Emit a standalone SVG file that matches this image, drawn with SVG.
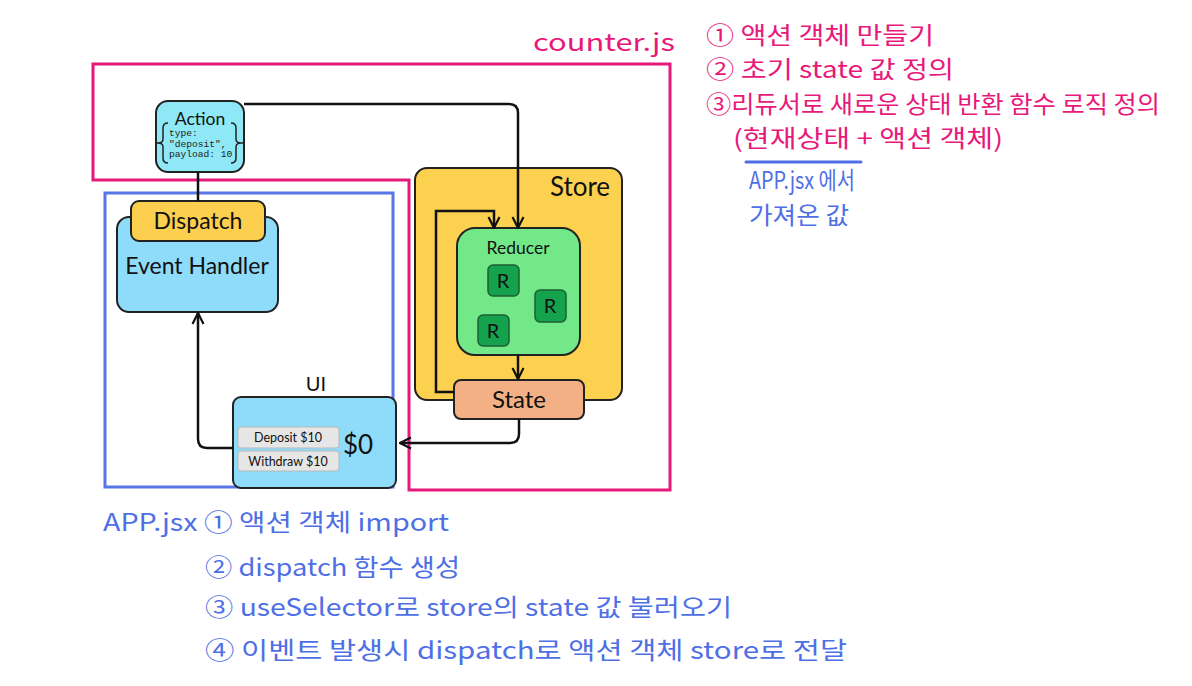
<svg xmlns="http://www.w3.org/2000/svg" width="1192" height="686" viewBox="0 0 1192 686">
<style>
.box{stroke:#222;stroke-width:2}
.lbl{font-family:Lato,"Liberation Sans",sans-serif;fill:#111;text-anchor:middle}
.mono{font-family:"Liberation Mono",monospace;font-size:9.6px;fill:#222}
.pk{font-family:"Noto Sans CJK KR",sans-serif;fill:#e8197a;font-size:24px}
.bl{font-family:"Noto Sans CJK KR",sans-serif;fill:#4f6fe6;font-size:24px}
.conn{fill:none;stroke:#111;stroke-width:2.5}
.btn{fill:#e6e6e6;stroke:#b8b8b8;stroke-width:1}
.r{fill:#14a34c;stroke:#1d5e33;stroke-width:1.5}
</style>
<defs>
<marker id="arr" viewBox="0 0 10 10" refX="9" refY="5" markerWidth="5.5" markerHeight="5.5" orient="auto" markerUnits="strokeWidth">
<path d="M1,1 L9,5 L1,9" fill="none" stroke="#111" stroke-width="1.6"/>
</marker>
</defs>
<rect width="1192" height="686" fill="#fff"/>

<g id="counter-js-frame">
<path d="M93,64 H670 V490 H409 V180 H93 Z" fill="none" stroke="#e5197a" stroke-width="3"/>
<text class="pk" x="533" y="51" font-size="26" textLength="142" lengthAdjust="spacingAndGlyphs">counter.js</text>
</g>
<g id="app-jsx-frame">
<rect x="105" y="193" width="288" height="294" fill="none" stroke="#5575e8" stroke-width="3"/>
</g>

<g id="action">
<rect x="156" y="101" width="88" height="71" rx="12" fill="#8ee8f6" class="box" stroke-width="1.5"/>
<text class="lbl" x="200" y="125" font-size="17.5">Action</text>
<path d="M168,123 Q163,123 163,128 V139 Q163,143 158,143 Q163,143 163,147 V158 Q163,163 168,163" fill="none" stroke="#222" stroke-width="1.5"/>
<path d="M231,123 Q236,123 236,128 V139 Q236,143 241,143 Q236,143 236,147 V158 Q236,163 231,163" fill="none" stroke="#222" stroke-width="1.5"/>
<line x1="155" y1="143" x2="158" y2="143" stroke="#222" stroke-width="1.5"/>
<line x1="241" y1="143" x2="245" y2="143" stroke="#222" stroke-width="1.5"/>
<text class="mono" x="169" y="136">type:</text>
<text class="mono" x="169" y="147">"deposit",</text>
<text class="mono" x="169" y="157">payload: 10</text>
</g>

<g id="event-handler">
<rect x="117" y="217" width="161" height="95" rx="12" fill="#8fdcfa" class="box"/>
<text class="lbl" x="197" y="274" font-size="23">Event Handler</text>
</g>
<g id="dispatch">
<rect x="131" y="201" width="134" height="40" rx="8" fill="#fdcf4f" class="box"/>
<text class="lbl" x="198" y="229" font-size="23">Dispatch</text>
</g>

<g id="store">
<rect x="415" y="168" width="207" height="232" rx="12" fill="#fdd150" class="box"/>
<text class="lbl" x="580" y="196" font-size="26">Store</text>
</g>
<g id="reducer">
<rect x="457" y="228" width="123" height="127" rx="18" fill="#72e889" class="box"/>
<text class="lbl" x="518" y="254" font-size="17.5">Reducer</text>
<rect class="r" x="488" y="265" width="31" height="31" rx="5"/>
<text class="lbl" x="503" y="288" font-size="20">R</text>
<rect class="r" x="535" y="290" width="31" height="32" rx="5"/>
<text class="lbl" x="550" y="313" font-size="20">R</text>
<rect class="r" x="478" y="315" width="31" height="31" rx="5"/>
<text class="lbl" x="493" y="338" font-size="20">R</text>
</g>
<g id="state">
<rect x="454" y="380" width="130" height="39" rx="7" fill="#f2b084" class="box"/>
<text class="lbl" x="519" y="408" font-size="24">State</text>
</g>

<g id="ui">
<text class="lbl" x="316" y="391" font-size="20">UI</text>
<rect x="233" y="397" width="163" height="91" rx="8" fill="#8fdcfa" class="box"/>
<rect class="btn" x="238" y="427" width="101" height="21" rx="3"/>
<text class="lbl" x="288" y="442" font-size="12.5">Deposit $10</text>
<rect class="btn" x="238" y="451" width="101" height="20" rx="3"/>
<text class="lbl" x="288" y="466" font-size="12.5">Withdraw $10</text>
<text class="lbl" x="358" y="454" font-size="26">$0</text>
</g>

<g id="connectors">
<line x1="198" y1="172" x2="198" y2="201" class="conn"/>
<path d="M244,104 H509 Q518,104 518,113 V228" class="conn" marker-end="url(#arr)"/>
<path d="M454,392 H436 V211 H494 V228" class="conn" marker-end="url(#arr)"/>
<path d="M518,355 V379" class="conn" marker-end="url(#arr)"/>
<path d="M519,419 V434 Q519,443 510,443 H400" class="conn" marker-end="url(#arr)"/>
<path d="M233,448 H207 Q198,448 198,439 V313" class="conn" marker-end="url(#arr)"/>
</g>

<g id="counter-notes">
<text class="pk" x="706" y="44" textLength="228" lengthAdjust="spacingAndGlyphs">① 액션 객체 만들기</text>
<text class="pk" x="706" y="78" textLength="248" lengthAdjust="spacingAndGlyphs">② 초기 state 값 정의</text>
<text class="pk" x="706" y="113" textLength="454" lengthAdjust="spacingAndGlyphs">③리듀서로 새로운 상태 반환 함수 로직 정의</text>
<text class="pk" x="733" y="147" textLength="270" lengthAdjust="spacingAndGlyphs">(현재상태 + 액션 객체)</text>
</g>
<g id="app-note">
<line x1="746" y1="162" x2="861" y2="162" stroke="#4f6fe6" stroke-width="3" stroke-linecap="round"/>
<text class="bl" x="749" y="189" font-size="14" textLength="106" lengthAdjust="spacingAndGlyphs">APP.jsx 에서</text>
<text class="bl" x="749" y="224" font-size="15" textLength="100" lengthAdjust="spacingAndGlyphs">가져온 값</text>
</g>
<g id="app-notes">
<text class="bl" x="103" y="531" textLength="346" lengthAdjust="spacingAndGlyphs">APP.jsx ① 액션 객체 import</text>
<text class="bl" x="205" y="576" textLength="255" lengthAdjust="spacingAndGlyphs">② dispatch 함수 생성</text>
<text class="bl" x="205" y="616" textLength="527" lengthAdjust="spacingAndGlyphs">③ useSelector로 store의 state 값 불러오기</text>
<text class="bl" x="205" y="659" textLength="642" lengthAdjust="spacingAndGlyphs">④ 이벤트 발생시 dispatch로 액션 객체 store로 전달</text>
</g>
</svg>
